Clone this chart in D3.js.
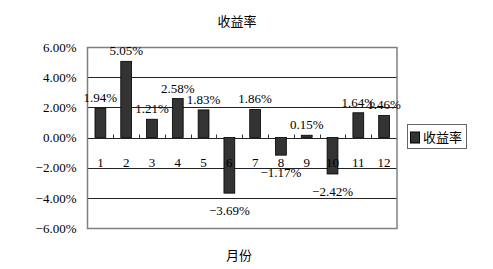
<!DOCTYPE html>
<html>
<head>
<meta charset="utf-8">
<script src="https://cdn.jsdelivr.net/npm/d3@7"></script>
<style>
    body { margin: 0; background: #fff; }
    text { font-family: "Liberation Serif", "Noto Sans CJK SC", serif; fill: #000; }
    .cjk { font-family: "Noto Sans CJK SC", sans-serif; }
</style>
</head>
<body>
<svg id="chart" width="493" height="269"></svg>
<script>
// data
const months = ["1", "2", "3", "4", "5", "6", "7", "8", "9", "10", "11", "12"];
const returns = [1.94, 5.05, 1.21, 2.58, 1.83, -3.69, 1.86, -1.17, 0.15, -2.42, 1.64, 1.46];
const yTicks = [-6, -4, -2, 0, 2, 4, 6];
const seriesName = "收益率";
const xTitle = "月份";

let svg = d3.select("#chart");

let plot = {left: 87.5, right: 397, top: 47, bottom: 228};

let xScale = d3.scaleBand()
    .domain(months)
    .range([plot.left, plot.right]);

let yScale = d3.scaleLinear()
    .domain([-6, 6])
    .range([plot.bottom, plot.top]);

// gridlines
svg.append("g").selectAll("line")
    .data(yTicks)
    .enter().append("line")
    .attr("x1", plot.left)
    .attr("x2", plot.right)
    .attr("y1", d => Math.round(yScale(d)) + 0.5)
    .attr("y2", d => Math.round(yScale(d)) + 0.5)
    .attr("stroke", "#222")
    .attr("stroke-width", 1);

// plot border
svg.append("rect")
    .attr("x", plot.left)
    .attr("y", Math.round(yScale(6)) + 0.5)
    .attr("width", plot.right - plot.left)
    .attr("height", Math.round(yScale(-6)) - Math.round(yScale(6)))
    .attr("fill", "none")
    .attr("stroke", "#808080")
    .attr("stroke-width", 1.5);

// y axis labels
let yAxis = d3.axisLeft(yScale)
    .tickValues(yTicks)
    .tickSize(0)
    .tickPadding(11)
    .tickFormat(d => d3.format(".2f")(d) + "%");

svg.append("g")
    .attr("transform", "translate(" + plot.left + ",0)")
    .call(yAxis)
    .call(g => g.select(".domain").remove())
    .selectAll("text")
    .attr("font-size", "13px")
    .attr("font-family", "Liberation Serif");

// ticks on the zero line between categories
let zeroY = Math.round(yScale(0)) + 0.5;
svg.append("g").selectAll("line")
    .data(months.slice(1))
    .enter().append("line")
    .attr("x1", d => Math.round(xScale(d)) + 0.5)
    .attr("x2", d => Math.round(xScale(d)) + 0.5)
    .attr("y1", zeroY - 4)
    .attr("y2", zeroY)
    .attr("stroke", "#333");

// bars
let barW = xScale.bandwidth() * 0.42;
svg.append("g").selectAll("rect")
    .data(returns)
    .enter().append("rect")
    .attr("x", (d, i) => xScale(months[i]) + (xScale.bandwidth() - barW) / 2)
    .attr("y", d => yScale(Math.max(0, d)))
    .attr("width", barW)
    .attr("height", d => Math.abs(yScale(d) - yScale(0)))
    .attr("fill", "#333")
    .attr("stroke", "#000")
    .attr("stroke-width", 0.8);

// category labels
svg.append("g").selectAll("text")
    .data(months)
    .enter().append("text")
    .attr("x", d => xScale(d) + xScale.bandwidth() / 2)
    .attr("y", yScale(-2) - 1)
    .attr("text-anchor", "middle")
    .attr("font-size", "13px")
    .text(d => d);

// value labels
svg.append("g").selectAll("text")
    .data(returns)
    .enter().append("text")
    .attr("x", (d, i) => xScale(months[i]) + xScale.bandwidth() / 2)
    .attr("y", d => d >= 0 ? yScale(d) - 6 : yScale(d) + 22)
    .attr("text-anchor", "middle")
    .attr("font-size", "13px")
    .text(d => d3.format(".2f")(d) + "%");

// title
svg.append("text")
    .attr("class", "cjk")
    .attr("x", 237)
    .attr("y", 26)
    .attr("text-anchor", "middle")
    .attr("font-size", "13px")
    .attr("fill", "#333")
    .text(seriesName);

// x axis title
svg.append("text")
    .attr("class", "cjk")
    .attr("x", 239)
    .attr("y", 260)
    .attr("text-anchor", "middle")
    .attr("font-size", "13px")
    .attr("fill", "#333")
    .text(xTitle);

// legend
let legend = svg.append("g").attr("transform", "translate(407,124)");
legend.append("rect")
    .attr("x", 0.5)
    .attr("y", 0.5)
    .attr("width", 59)
    .attr("height", 24)
    .attr("fill", "#fff")
    .attr("stroke", "#666");
legend.append("rect")
    .attr("x", 3.5)
    .attr("y", 8)
    .attr("width", 9)
    .attr("height", 11)
    .attr("fill", "#333")
    .attr("stroke", "#000");
legend.append("text")
    .attr("class", "cjk")
    .attr("x", 16)
    .attr("y", 18)
    .attr("font-size", "13px")
    .text(seriesName);
</script>
</body>
</html>
